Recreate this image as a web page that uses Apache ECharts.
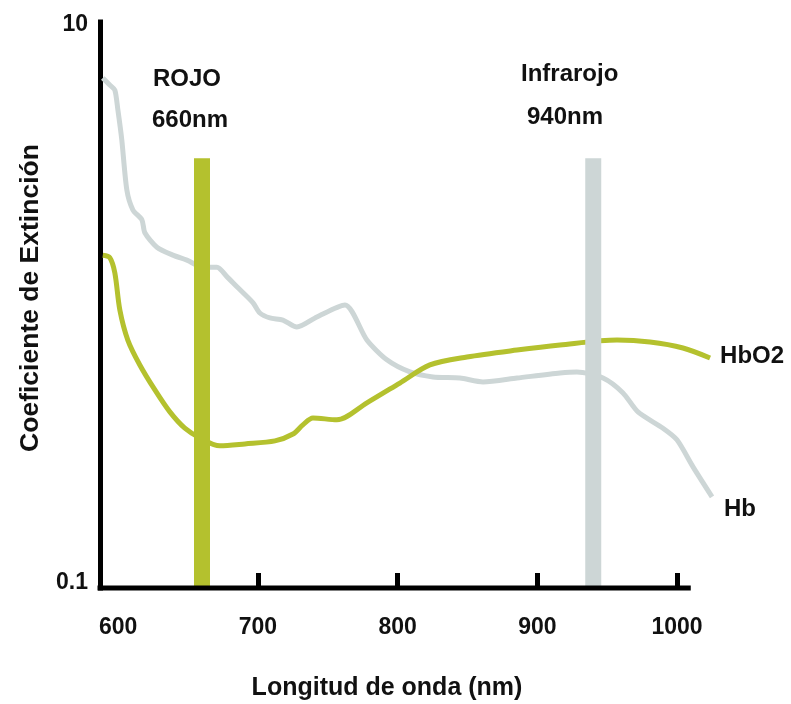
<!DOCTYPE html>
<html>
<head>
<meta charset="utf-8">
<script src="https://cdn.jsdelivr.net/npm/echarts@6/dist/echarts.min.js"></script>
<style>
  html, body { margin: 0; padding: 0; background: #ffffff; }
  #chart { width: 791px; height: 704px; }
</style>
</head>
<body>
<div id="chart"></div>
<script>
// Extinction coefficient of deoxy- (Hb) and oxy-haemoglobin (HbO2), log scale
const hbWavelengths = [589, 594, 597.6, 599.8, 602.6, 606.2, 610.5, 617, 619.1, 627.7, 639.2, 649.2,
  660.6, 670.7, 677.8, 685, 696.4, 701.4, 708.6, 717.9, 727.9, 742.2, 762.3, 778, 792.3, 808.8,
  825.3, 844.6, 861.1, 885.4, 916.2, 928.3, 947, 961.3, 972, 989.9, 999.9, 1011.4, 1025];
const hbValues = [6.34, 5.99, 5.75, 4.89, 3.83, 2.55, 2.17, 2.0, 1.8, 1.6, 1.5, 1.44,
  1.36, 1.36, 1.26, 1.16, 1.02, 0.937, 0.9, 0.885, 0.836, 0.907, 1.0, 0.752, 0.64, 0.58,
  0.557, 0.552, 0.535, 0.552, 0.575, 0.58, 0.552, 0.489, 0.419, 0.367, 0.334, 0.268, 0.21];

const hbo2Wavelengths = [589, 594, 597.6, 601.2, 606.9, 615.5, 626.3, 637, 647.7, 658.5, 672.8,
  690.7, 712.2, 725.1, 732.2, 739.4, 756.5, 778, 801.6, 823.1, 849.6, 885.4, 916.2, 957,
  980.6, 1004.2, 1023.6];
const hbo2Values = [1.5, 1.47, 1.3, 0.96, 0.752, 0.614, 0.501, 0.419, 0.367, 0.339, 0.318,
  0.323, 0.331, 0.35, 0.377, 0.399, 0.393, 0.451, 0.53, 0.614, 0.655, 0.693, 0.722, 0.752,
  0.74, 0.705, 0.65];

// Measurement bands (red and infrared LEDs)
const bandNames = ['ROJO', 'Infrarojo'];
const bandWavelengths = [660, 940];
const bandTop = 3.3;

// Axis ticks and labels; the drawn x baseline stops short of the data
const xTickValues = [700, 800, 900, 1000];
const xLabelValues = [600, 700, 800, 900, 1000];
const xBaseline = [587, 1008];
const yLabelValues = [0.1, 10];

const FONT = '"Liberation Sans", Arial, sans-serif';
const GREEN = '#b4c12e';
const GREY = '#cdd6d6';
const TEXT = '#111111';

const zip = (xs, ys) => xs.map((x, i) => [x, ys[i]]);

const chart = echarts.init(document.getElementById('chart'), null, { renderer: 'canvas' });

const bandSeries = bandNames.map((name, i) => ({
  name: name,
  type: 'line',
  data: [[bandWavelengths[i], 0.1], [bandWavelengths[i], bandTop]],
  symbol: 'none',
  clip: false,
  z: 5,
  lineStyle: { width: 16, color: i === 0 ? GREEN : GREY, cap: 'butt' },
  emphasis: { disabled: true }
}));

chart.setOption({
  animation: false,
  backgroundColor: '#ffffff',
  grid: { left: 100, top: 22, width: 619, height: 566, containLabel: false, outerBoundsMode: 'none' },
  xAxis: {
    type: 'value',
    min: 587,
    max: 1030,
    name: 'Longitud de onda (nm)',
    nameLocation: 'middle',
    nameGap: 88,
    nameTextStyle: { fontFamily: FONT, fontWeight: 'bold', fontSize: 25, color: TEXT, padding: [0, 45, 0, 0] },
    axisLine: { show: false },
    axisTick: { show: true, inside: true, length: 15, lineStyle: { color: '#000', width: 5 }, customValues: xTickValues },
    axisLabel: {
      fontFamily: FONT, fontWeight: 'bold', fontSize: 23, color: TEXT, margin: 28,
      customValues: xLabelValues,
      formatter: v => String(Math.round(v))
    },
    splitLine: { show: false }
  },
  yAxis: {
    type: 'log',
    logBase: 10,
    min: 0.1,
    max: 10,
    name: 'Coeficiente de Extinción',
    nameLocation: 'middle',
    nameGap: 56,
    nameRotate: 90,
    nameTextStyle: { fontFamily: FONT, fontWeight: 'bold', fontSize: 26.5, color: TEXT, padding: [0, 0, 0, 14] },
    axisLine: { show: true, lineStyle: { color: '#000', width: 5, cap: 'square' } },
    axisTick: { show: false },
    axisLabel: {
      fontFamily: FONT, fontWeight: 'bold', fontSize: 23, color: TEXT, margin: 12,
      customValues: yLabelValues,
      formatter: v => (v < 1 ? '{lo|0.1}' : '{hi|10}'),
      rich: {
        lo: { fontFamily: FONT, fontWeight: 'bold', fontSize: 23, color: TEXT, padding: [0, 0, 10, 0] },
        hi: { fontFamily: FONT, fontWeight: 'bold', fontSize: 23, color: TEXT, padding: [6, 0, 0, 0] }
      }
    },
    splitLine: { show: false },
    minorTick: { show: false }
  },
  series: [
    {
      name: 'Hb',
      type: 'line',
      data: zip(hbWavelengths, hbValues),
      symbol: 'none',
      smooth: 0.25,
      clip: false,
      z: 3,
      lineStyle: { width: 5, color: GREY },
      endLabel: {
        show: true, formatter: '{a}', fontFamily: FONT, fontWeight: 'bold', fontSize: 24,
        color: TEXT, distance: 12, offset: [0, 13]
      },
      emphasis: { disabled: true }
    },
    {
      name: 'HbO2',
      type: 'line',
      data: zip(hbo2Wavelengths, hbo2Values),
      symbol: 'none',
      smooth: 0.3,
      clip: false,
      z: 4,
      lineStyle: { width: 5, color: GREEN },
      endLabel: {
        show: true, formatter: '{a}', fontFamily: FONT, fontWeight: 'bold', fontSize: 24,
        color: TEXT, distance: 10, offset: [0, -2]
      },
      emphasis: { disabled: true }
    },
    ...bandSeries,
    {
      name: 'baseline',
      type: 'line',
      data: xBaseline.map(x => [x, 0.1]),
      symbol: 'none',
      clip: false,
      z: 6,
      lineStyle: { width: 5, color: '#000', cap: 'square' },
      emphasis: { disabled: true }
    }
  ],
  graphic: [
    { type: 'text', left: 153, top: 67, style: { text: 'ROJO', font: 'bold 24px ' + FONT, fill: TEXT } },
    { type: 'text', left: 152, top: 108, style: { text: '660nm', font: 'bold 24px ' + FONT, fill: TEXT } },
    { type: 'text', left: 521, top: 62, style: { text: 'Infrarojo', font: 'bold 24px ' + FONT, fill: TEXT } },
    { type: 'text', left: 527, top: 105, style: { text: '940nm', font: 'bold 24px ' + FONT, fill: TEXT } }
  ]
});
</script>
</body>
</html>
